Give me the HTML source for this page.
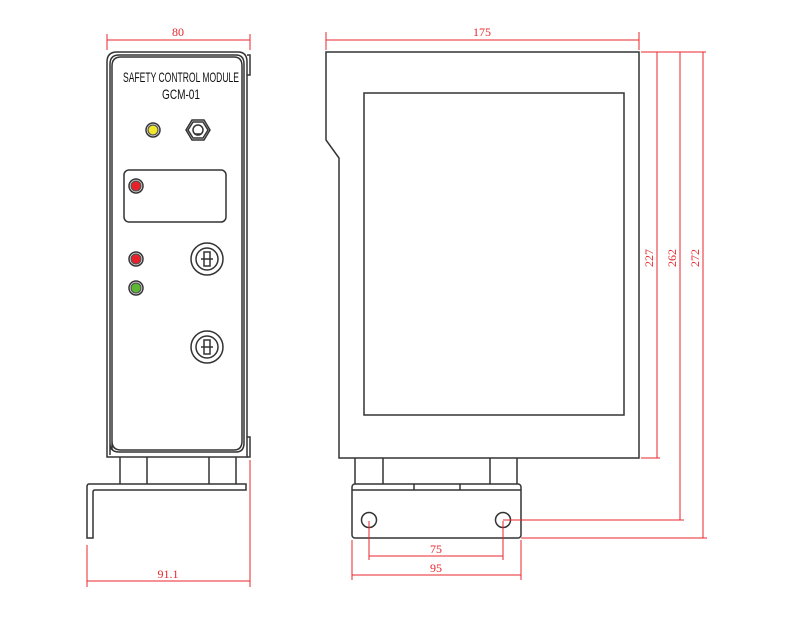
<!DOCTYPE html>
<html><head><meta charset="utf-8"><style>body{margin:0;background:#fff}svg{display:block}</style></head><body>
<svg width="800" height="638" viewBox="0 0 800 638" xmlns="http://www.w3.org/2000/svg" font-family="Liberation Sans, sans-serif">
<g fill="none" stroke="#333" stroke-width="1.5">
<path d="M107 457 V62 Q107 52 117 52 H238 Q247 52 247 62 V457 Z"/>
<path d="M110 455 V64 Q110 55 119 55 H236 Q244 55 244 64 V443 Q244 452 236 452 H119 Q110 452 110 443"/>
<path d="M112 450 V66 Q112 57 121 57 H234 Q242 57 242 66 V441 Q242 450 234 450 H121 Q112 450 112 441"/>
<path d="M247 55 H250 V75 H247"/><path d="M247 437 H250 V457 H247"/>
<line x1="120" y1="457" x2="120" y2="484"/><line x1="147" y1="457" x2="147" y2="484"/>
<line x1="209" y1="457" x2="209" y2="484"/><line x1="236" y1="457" x2="236" y2="484"/>
<path d="M246 484 H89 Q87 484 87 487 V538 H93 V492 Q93 490 95 490 H246 Z"/>
<circle cx="153" cy="130" r="7"/>
<path d="M192 120 H204 L210 130 L204 140 H192 L186 130 Z"/><path d="M193 122 H203 L208 130 L203 138 H193 L188 130 Z"/>
<circle cx="198" cy="130" r="5"/><line x1="195" y1="134" x2="201" y2="134"/>
<rect x="124" y="170" width="102" height="52" rx="5"/>
<circle cx="136" cy="186" r="7"/><circle cx="136" cy="259" r="7"/><circle cx="136" cy="288" r="7"/>
<circle cx="207" cy="259" r="16"/><circle cx="207" cy="259" r="11"/><rect x="204" y="252" width="6" height="14"/><path d="M201 259 H213"/>
<circle cx="207" cy="347" r="16"/><circle cx="207" cy="347" r="11"/><rect x="204" y="340" width="6" height="14"/><path d="M201 347 H213"/>
<path d="M326 52 H639 V458 H339 V158 L326 140 Z"/>
<rect x="364" y="93" width="260" height="322"/>
<line x1="355" y1="458" x2="355" y2="484"/><line x1="383" y1="458" x2="383" y2="484"/>
<line x1="490" y1="458" x2="490" y2="484"/><line x1="517" y1="458" x2="517" y2="484"/>
<rect x="352" y="484" width="169" height="54" rx="3"/>
<path d="M352 490 H414 V484 M414 490 H460 V484 M460 490 H521"/>
<circle cx="369" cy="520" r="7.5"/><circle cx="503" cy="520" r="7.5"/>
</g>
<g fill="none" stroke="#e8262c" stroke-width="1">
<path d="M107 34 V50 M250 34 V50 M107 40 H250"/>
<path d="M87 545 V587 M250 460 V587 M87 581 H250"/>
<path d="M326 32 V50 M639 32 V50 M326 40 H639"/>
<path d="M641 52 H706 M657 52 V458 M641 458 H660 M680 52 V520 M503 520 H684 M703 52 V538 M521 538 H707"/>
<path d="M369 521 V560 M503 521 V560 M369 556 H503"/>
<path d="M352 540 V580 M521 540 V580 M352 575 H521"/>
</g>
<g fill="#e8262c" font-family="Liberation Serif, serif" font-size="12">
<text x="178" y="36" text-anchor="middle">80</text>
<text x="168" y="578" text-anchor="middle">91.1</text>
<text x="482" y="36" text-anchor="middle">175</text>
<text x="436" y="553" text-anchor="middle">75</text>
<text x="436" y="572" text-anchor="middle">95</text>
<text transform="translate(653,258) rotate(-90)" text-anchor="middle">227</text>
<text transform="translate(676,258) rotate(-90)" text-anchor="middle">262</text>
<text transform="translate(699,258) rotate(-90)" text-anchor="middle">272</text>
</g>
<g fill="#111" font-size="14">
<text x="123" y="82" textLength="116" lengthAdjust="spacingAndGlyphs">SAFETY CONTROL MODULE</text>
<text x="181" y="99" text-anchor="middle" textLength="38" lengthAdjust="spacingAndGlyphs">GCM-01</text>
</g>
<g stroke="#555" stroke-width="1.2">
<circle cx="153" cy="130" r="5" fill="#f0e62a"/>
<circle cx="136" cy="186" r="5" fill="#e8202a"/>
<circle cx="136" cy="259" r="5" fill="#e8202a"/>
<circle cx="136" cy="288" r="5" fill="#5bb830"/>
</g>
</svg>
</body></html>
